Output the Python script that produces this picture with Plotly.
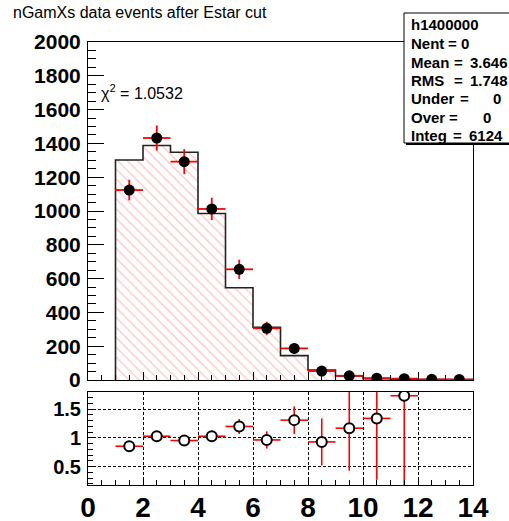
import plotly.graph_objects as go

# ---- data ----
bin_edges = [1, 2, 3, 4, 5, 6, 7, 8, 9, 10, 11, 12, 13, 14]
mc_counts = [1302, 1388, 1348, 985, 546, 312, 144, 59, 24, 8, 5, 3, 2]
data_counts = [1124, 1432, 1292, 1012, 655, 306, 187, 53, 25, 11, 8, 4, 3]
data_errors = [61, 74, 74, 66, 57, 39, 31, 18, 12, 8, 6, 4, 4]
ratio_vals = [0.855, 1.03, 0.955, 1.03, 1.2, 0.965, 1.31, 0.93, 1.17, 1.34, 1.735, None, None]
ratio_errs = [0.05, 0.04, 0.04, 0.05, 0.13, 0.15, 0.24, 0.41, 0.74, 1.07, 2.0, 0, 0]

title_text = "nGamXs data events after Estar cut"
chi2_text = "χ<sup>2</sup> = 1.0532"
stats_name = "h1400000"
stats_rows = [("Nent", "0"), ("Mean", "3.646"), ("RMS", "1.748"),
              ("Under", "0"), ("Over", "0"), ("Integ", "6124")]

centers = [(a + b) / 2 for a, b in zip(bin_edges[:-1], bin_edges[1:])]
halfw = [(b - a) / 2 for a, b in zip(bin_edges[:-1], bin_edges[1:])]
widths = [b - a for a, b in zip(bin_edges[:-1], bin_edges[1:])]

FONT = "Liberation Sans, Arial, Helvetica, sans-serif"
RED = "#ff0000"

fig = go.Figure()

# hatched MC histogram
fig.add_trace(go.Bar(
    x=centers, y=mc_counts, width=widths,
    marker=dict(color="white", line=dict(width=0),
                pattern=dict(shape="\\", fgcolor="#ff8a8a", bgcolor="white",
                             size=7, solidity=0.18)),
    xaxis="x", yaxis="y", hoverinfo="skip"))

# step outline
step_x = [bin_edges[0]] + bin_edges
step_y = [0] + mc_counts + [mc_counts[-1]]
fig.add_trace(go.Scatter(
    x=step_x, y=step_y, mode="lines", line=dict(color="#222222", width=1.6, shape="hv"),
    xaxis="x", yaxis="y", hoverinfo="skip"))

# data points
fig.add_trace(go.Scatter(
    x=centers, y=data_counts, mode="markers",
    marker=dict(color="black", size=11, symbol="circle"),
    error_x=dict(type="data", array=halfw, color=RED, thickness=1.8, width=0),
    error_y=dict(type="data", array=data_errors, color=RED, thickness=1.8, width=0),
    xaxis="x", yaxis="y"))

# ratio points
fig.add_trace(go.Scatter(
    x=centers, y=ratio_vals, mode="markers",
    marker=dict(color="white", size=10, symbol="circle", line=dict(color="black", width=2)),
    error_x=dict(type="data", array=halfw, color=RED, thickness=1.6, width=0),
    error_y=dict(type="data", array=ratio_errs, color=RED, thickness=1.6, width=0),
    xaxis="x2", yaxis="y2"))

L, R, T, B = 88, 36, 42, 36
W, H = 509, 521
pw, ph = W - L - R, H - T - B


def px(xp):
    return (xp - L) / pw


def py(yp):
    return (H - B - yp) / ph


top_lo = py(380)
rat_hi = py(392)

axis_common = dict(showline=True, linecolor="black", linewidth=1, mirror=True,
                   ticks="inside", tickcolor="black", tickwidth=1, zeroline=False,
                   automargin=False)

fig.update_layout(
    width=W, height=H,
    margin=dict(l=L, r=R, t=T, b=B, autoexpand=False),
    paper_bgcolor="white", plot_bgcolor="white",
    showlegend=False, bargap=0,
    xaxis=dict(domain=[0, 1], range=[0, 14], anchor="y", showticklabels=False,
               showgrid=False, dtick=2, tick0=0, ticklen=8,
               minor=dict(ticks="inside", ticklen=5, dtick=0.5, tick0=0,
                          tickcolor="black", showgrid=False),
               **axis_common),
    yaxis=dict(domain=[top_lo, 1], range=[0, 2000], anchor="x", showgrid=False,
               dtick=200, tick0=0, ticklen=16,
               minor=dict(ticks="inside", ticklen=8, dtick=50, tick0=0,
                          tickcolor="black", showgrid=False),
               tickfont=dict(family=FONT, size=21, color="black", weight="bold"),
               ticklabelstandoff=2,
               **axis_common),
    xaxis2=dict(domain=[0, 1], range=[0, 14], anchor="y2",
                showgrid=True, gridcolor="black", gridwidth=1, griddash="3px,2px",
                dtick=2, tick0=0, ticklen=8,
                minor=dict(ticks="inside", ticklen=5, dtick=0.5, tick0=0,
                           tickcolor="black", showgrid=False),
                tickfont=dict(family=FONT, size=28, color="black", weight="bold"),
                ticklabelstandoff=-3,
                **axis_common),
    yaxis2=dict(domain=[0, rat_hi], range=[0.18, 1.8], anchor="x2",
                showgrid=True, gridcolor="black", gridwidth=1, griddash="3px,2px",
                dtick=0.5, tick0=0, ticklen=8,
                minor=dict(ticks="inside", ticklen=5, dtick=0.1, tick0=0,
                           tickcolor="black", showgrid=False),
                tickfont=dict(family=FONT, size=20, color="black", weight="bold"),
                ticklabelstandoff=2,
                **axis_common),
)

annotations = []
shapes = []

# title
annotations.append(dict(text=title_text, xref="paper", yref="paper", x=px(11), y=py(12.5),
                        xanchor="left", yanchor="middle", showarrow=False,
                        font=dict(family=FONT, size=16, color="black")))
# chi2
annotations.append(dict(text=chi2_text, xref="paper", yref="paper", x=px(99), y=py(92),
                        xanchor="left", yanchor="middle", showarrow=False,
                        font=dict(family=FONT, size=16, color="black")))

# stats box
shapes.append(dict(type="rect", xref="paper", yref="paper", x0=px(406), x1=px(530),
                   y0=py(145), y1=py(15), fillcolor="black", line=dict(width=0), layer="above"))
shapes.append(dict(type="rect", xref="paper", yref="paper", x0=px(404), x1=px(530),
                   y0=py(143), y1=py(13), fillcolor="white",
                   line=dict(color="black", width=1), layer="above"))

sfont = dict(family=FONT, size=15, color="black", weight="bold")
row_y = [43.5, 62, 80.5, 99, 117.5, 136]
eq_x = [452, 458, 458, 464, 453, 457.5]
val_x = [459, 468, 468, 491, 481, 467]
annotations.append(dict(text=stats_name, xref="paper", yref="paper", x=px(409), y=py(25),
                        xanchor="left", yanchor="middle", showarrow=False, font=sfont))
for (lab, val), yy, ex, vx in zip(stats_rows, row_y, eq_x, val_x):
    annotations.append(dict(text=lab, xref="paper", yref="paper", x=px(409), y=py(yy),
                            xanchor="left", yanchor="middle", showarrow=False, font=sfont))
    annotations.append(dict(text="=", xref="paper", yref="paper", x=px(ex), y=py(yy),
                            xanchor="center", yanchor="middle", showarrow=False, font=sfont))
    annotations.append(dict(text=val, xref="paper", yref="paper", x=px(vx), y=py(yy),
                            xanchor="left", yanchor="middle", showarrow=False, font=sfont))

fig.update_layout(annotations=annotations, shapes=shapes)

fig.write_html("out.html", config={"displayModeBar": False},
               post_script="document.body.style.margin='0px';document.body.style.overflow='hidden';")
